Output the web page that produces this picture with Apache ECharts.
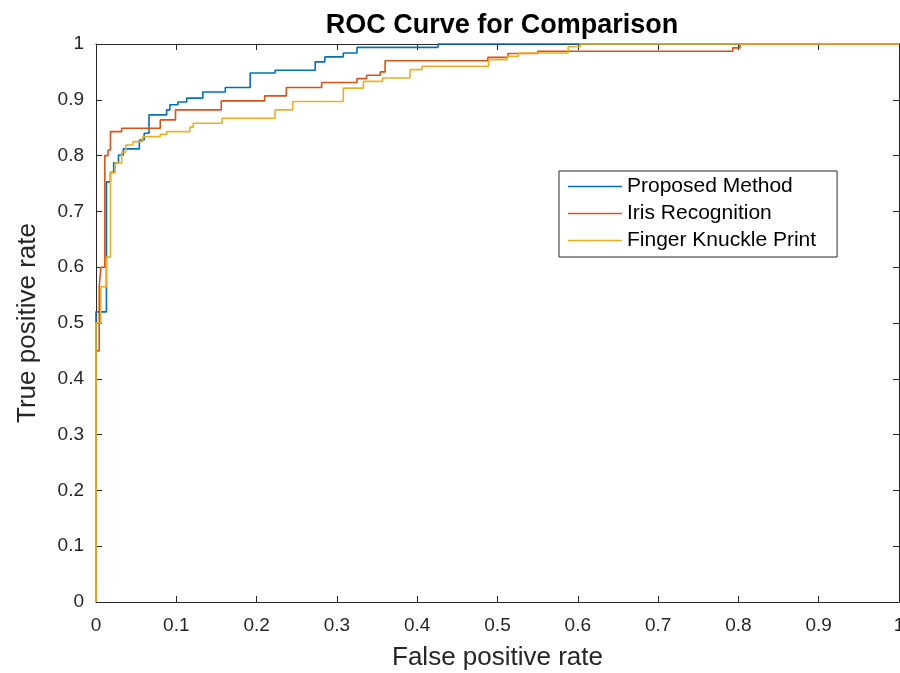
<!DOCTYPE html>
<html>
<head>
<meta charset="utf-8">
<script src="https://cdn.jsdelivr.net/npm/echarts@6/dist/echarts.min.js"></script>
<style>
html,body{margin:0;padding:0;background:#fff;}
#chart{width:900px;height:673px;}
</style>
</head>
<body>
<div id="chart"></div>
<script>
// ---- data (ROC step corners: [FPR, TPR after step]) ----
const seriesNames = ["Proposed Method", "Iris Recognition", "Finger Knuckle Print"];
const xTicks = [0, 0.1, 0.2, 0.3, 0.4, 0.5, 0.6, 0.7, 0.8, 0.9, 1];
const yTicks = [0, 0.1, 0.2, 0.3, 0.4, 0.5, 0.6, 0.7, 0.8, 0.9, 1];

const proposedFPR = [0, 0, 0.013, 0.018, 0.022, 0.028, 0.034, 0.054, 0.060, 0.066, 0.088, 0.092, 0.102, 0.113, 0.133, 0.161, 0.192, 0.223, 0.273, 0.285, 0.308, 0.325, 0.426, 1];
const proposedTPR = [0, 0.52, 0.753, 0.770, 0.787, 0.801, 0.812, 0.828, 0.840, 0.873, 0.882, 0.891, 0.896, 0.903, 0.914, 0.922, 0.948, 0.953, 0.968, 0.977, 0.984, 0.994, 1.0, 1.0];

const irisFPR = [0, 0, 0.004, 0.006, 0.011, 0.015, 0.018, 0.032, 0.080, 0.099, 0.156, 0.210, 0.237, 0.281, 0.325, 0.337, 0.354, 0.360, 0.488, 0.513, 0.550, 0.793, 0.802, 1];
const irisTPR = [0, 0.45, 0.565, 0.600, 0.800, 0.810, 0.843, 0.849, 0.864, 0.882, 0.898, 0.907, 0.922, 0.931, 0.938, 0.944, 0.950, 0.970, 0.976, 0.983, 0.987, 0.993, 1.0, 1.0];

const knuckleFPR = [0, 0, 0.006, 0.013, 0.018, 0.024, 0.032, 0.037, 0.046, 0.058, 0.080, 0.088, 0.117, 0.121, 0.157, 0.223, 0.245, 0.308, 0.333, 0.357, 0.391, 0.406, 0.489, 0.512, 0.526, 0.588, 0.603, 1];
const knuckleTPR = [0, 0.50, 0.565, 0.618, 0.769, 0.787, 0.806, 0.819, 0.825, 0.834, 0.838, 0.843, 0.851, 0.858, 0.867, 0.882, 0.897, 0.921, 0.933, 0.939, 0.954, 0.960, 0.972, 0.978, 0.984, 0.995, 1.0, 1.0];

const colors = ["#0072BD", "#D95319", "#EDB120"];

function pairs(xs, ys){ return xs.map((x,i)=>[x, ys[i]]); }

const axisColor = "#262626";
const font = "'Liberation Sans', Arial, sans-serif";

const chart = echarts.init(document.getElementById('chart'));
const baseX = {type:'value', min:0, max:1, interval:0.1,
  axisLine:{show:true, onZero:false, lineStyle:{color:axisColor, width:1}},
  axisTick:{show:true, inside:true, length:6, lineStyle:{color:axisColor}},
  splitLine:{show:false}};
chart.setOption({
  animation:false,
  color: colors,
  title:{text:'ROC Curve for Comparison', left:497, textAlign:'center', top:7,
    textStyle:{fontFamily:font, fontSize:27, fontWeight:'bold', color:'#000'}},
  grid:{left:96, right:1, top:44, bottom:71, containLabel:false, outerBoundsMode:'none'},
  legend:{orient:'vertical', left:559, top:171, data:seriesNames,
    itemWidth:54, itemHeight:14, itemGap:6, padding:[5,21,6,9],
    borderColor:axisColor, borderWidth:1, backgroundColor:'#fff',
    icon:'path://M0,0L54,0L54,1.5L0,1.5Z',
    textStyle:{fontFamily:font, fontSize:21, color:'#000', lineHeight:21}},
  xAxis:[
    Object.assign({}, baseX, {position:'bottom', name:'False positive rate', nameLocation:'middle', nameGap:43,
      nameTextStyle:{fontFamily:font, fontSize:26, color:axisColor},
      axisLabel:{show:true, margin:14, fontFamily:font, fontSize:19, color:axisColor,
        formatter:(v)=>{const t=xTicks.find(k=>Math.abs(k-v)<1e-9); return t===undefined?'':String(t);}}}),
    Object.assign({}, baseX, {position:'top', axisLabel:{show:false}})
  ],
  yAxis:[
    Object.assign({}, baseX, {position:'left', name:'True positive rate', nameLocation:'middle', nameGap:55,
      nameTextStyle:{fontFamily:font, fontSize:26, color:axisColor},
      axisLabel:{show:true, margin:12, fontFamily:font, fontSize:19, color:axisColor,
        formatter:(v)=>{const t=yTicks.find(k=>Math.abs(k-v)<1e-9); return t===undefined?'':String(t);}}}),
    Object.assign({}, baseX, {position:'right', axisLabel:{show:false}})
  ],
  series:[
    {name:seriesNames[0], type:'line', step:'end', symbol:'none', data:pairs(proposedFPR, proposedTPR), lineStyle:{width:1.6}, clip:false},
    {name:seriesNames[1], type:'line', step:'end', symbol:'none', data:pairs(irisFPR, irisTPR), lineStyle:{width:1.6}, clip:false},
    {name:seriesNames[2], type:'line', step:'end', symbol:'none', data:pairs(knuckleFPR, knuckleTPR), lineStyle:{width:1.6}, clip:false}
  ]
});
</script>
</body>
</html>
